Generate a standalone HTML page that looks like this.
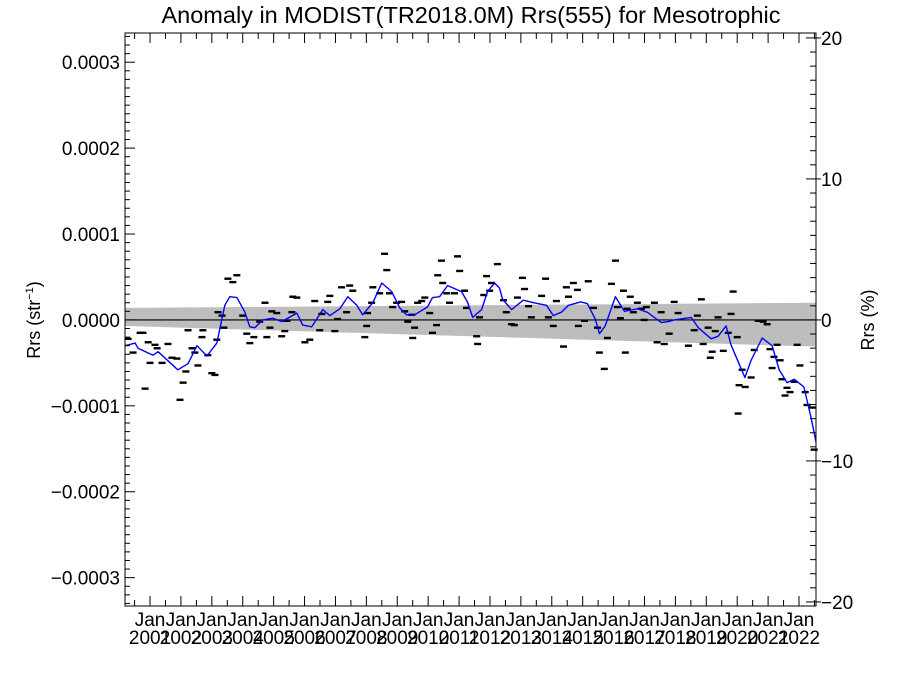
<!DOCTYPE html>
<html><head><meta charset="utf-8">
<style>
body{margin:0;background:#fff;}
svg{display:block;font-family:"Liberation Sans",Arial,sans-serif;}
</style></head>
<body>
<svg id="chart" width="900" height="675" viewBox="0 0 900 675" xmlns="http://www.w3.org/2000/svg">
<rect x="0" y="0" width="900" height="675" fill="#fff"/>
<text x="471" y="23" font-size="23.5" text-anchor="middle">Anomaly in MODIST(TR2018.0M) Rrs(555) for Mesotrophic</text>
<text transform="translate(40,320) rotate(-90)" font-size="18" text-anchor="middle">Rrs (str<tspan font-size="11" dy="-7">−1</tspan><tspan dy="7">)</tspan></text>
<text transform="translate(874,320) rotate(-90)" font-size="18" text-anchor="middle">Rrs (%)</text>
<g id="plot"></g>
</svg>
<script>
// ---- data (values in units of 1e-5 sr^-1, time in decimal years) ----
const lineYears = [2000.19,2000.52,2000.61,2001.10,2001.26,2001.90,2002.23,2002.52,2002.84,2003.16,2003.42,2003.58,2003.81,2004.07,2004.23,2004.39,2004.65,2004.97,2005.26,2005.75,2005.94,2006.23,2006.59,2006.82,2007.14,2007.40,2007.69,2007.88,2008.21,2008.50,2008.82,2009.08,2009.30,2009.56,2009.98,2010.14,2010.37,2010.63,2011.08,2011.27,2011.44,2011.73,2011.92,2012.15,2012.31,2012.41,2012.70,2013.08,2013.41,2013.83,2014.05,2014.31,2014.54,2014.93,2015.15,2015.41,2015.54,2015.73,2016.06,2016.35,2016.77,2017.09,2017.54,2017.77,2017.96,2018.51,2018.74,2019.16,2019.38,2019.64,2019.80,2020.25,2020.45,2020.81,2021.13,2021.36,2021.61,2021.84,2022.16,2022.39,2022.55];
const lineValues = [-3.0,-2.7,-3.3,-4.1,-3.7,-5.8,-5.1,-3.0,-4.2,-2.7,1.7,2.7,2.6,0.9,-0.8,-0.9,0.0,0.2,-0.2,0.8,-0.6,-0.8,1.2,0.5,1.3,2.7,1.7,0.6,2.0,4.3,3.3,1.4,0.6,0.6,1.5,2.6,2.7,4.0,3.3,2.1,0.3,1.2,3.3,4.3,3.7,2.4,1.2,2.3,2.0,1.7,0.5,0.9,1.7,2.1,1.9,0.1,-1.6,-0.7,2.7,1.0,1.3,0.9,-0.3,-0.2,0.0,0.3,-0.9,-2.2,-1.9,-0.7,-2.9,-6.7,-4.7,-2.1,-3.0,-5.8,-7.3,-6.9,-7.8,-11.4,-14.2];
const pointYears = [2000.29,2000.45,2000.68,2000.77,2000.94,2001.00,2000.84,2001.16,2001.23,2001.39,2001.58,2001.71,2001.87,2001.97,2002.07,2002.16,2002.23,2002.36,2002.45,2002.55,2002.68,2002.71,2002.87,2003.00,2003.10,2003.16,2003.20,2003.33,2003.39,2003.52,2003.68,2003.81,2004.00,2004.13,2004.23,2004.36,2004.55,2004.72,2004.78,2004.88,2004.94,2005.10,2005.26,2005.36,2005.43,2005.59,2005.62,2005.75,2006.01,2006.17,2006.33,2006.49,2006.56,2006.75,2006.82,2006.98,2007.07,2007.20,2007.36,2007.46,2007.56,2007.95,2008.01,2008.04,2008.17,2008.21,2008.43,2008.59,2008.66,2008.75,2008.85,2008.98,2009.14,2009.24,2009.34,2009.47,2009.50,2009.56,2009.66,2009.79,2009.89,2010.05,2010.14,2010.27,2010.31,2010.43,2010.47,2010.60,2010.69,2010.85,2010.95,2011.02,2011.18,2011.24,2011.57,2011.60,2011.66,2011.89,2012.05,2012.24,2011.80,2011.99,2012.44,2012.53,2012.70,2012.79,2012.89,2013.05,2013.12,2013.25,2013.34,2013.67,2013.80,2013.89,2014.05,2014.15,2014.38,2014.47,2014.54,2014.70,2014.83,2014.86,2015.06,2015.18,2015.35,2015.48,2015.54,2015.70,2015.80,2015.93,2016.06,2016.12,2016.22,2016.32,2016.38,2016.44,2016.54,2016.64,2016.77,2016.90,2016.99,2017.06,2017.32,2017.41,2017.54,2017.64,2017.80,2017.96,2018.09,2018.42,2018.61,2018.71,2018.84,2018.90,2019.06,2019.13,2019.19,2019.29,2019.38,2019.55,2019.71,2019.80,2019.87,2020.00,2020.03,2020.06,2020.16,2020.26,2020.45,2020.55,2020.68,2020.84,2020.97,2021.06,2021.13,2021.19,2021.29,2021.39,2021.45,2021.55,2021.61,2021.71,2021.84,2021.94,2022.03,2022.20,2022.26,2022.42,2022.49];
const pointValues = [-2.2,-3.8,-1.5,-1.5,-2.6,-5.0,-8.0,-2.9,-3.3,-5.0,-2.8,-4.4,-4.5,-9.3,-7.3,-6.0,-1.2,-3.3,-3.8,-5.3,-2.0,-1.2,-4.1,-6.2,-6.4,-2.3,0.9,0.5,-0.9,4.8,4.4,5.2,0.5,-1.6,-2.7,-2.0,-0.2,2.0,-2.0,-0.9,1.0,0.8,-1.9,-1.3,-0.1,0.9,2.7,2.6,-2.6,-2.3,2.2,-1.2,0.7,2.1,2.8,-1.3,0.1,3.8,0.9,4.0,3.4,-2.0,-0.7,0.8,2.0,3.8,3.1,7.7,5.8,3.1,1.5,2.0,2.1,1.0,-0.2,0.6,-2.1,-0.9,2.0,2.2,2.6,0.8,-1.5,-0.6,5.2,6.9,4.3,3.1,2.0,3.1,7.4,5.7,3.4,1.4,-1.9,-2.8,0.3,5.1,4.3,6.5,2.9,3.4,2.3,0.9,-0.5,-0.6,2.6,4.9,3.6,1.6,0.3,2.8,4.8,0.3,-0.7,2.2,-3.1,3.8,2.7,4.3,3.5,-0.7,-0.1,4.5,1.4,-0.9,-3.8,-5.7,-2.1,4.2,6.9,1.5,0.2,3.4,-3.8,1.3,2.7,0.9,2.0,1.3,0.0,1.5,2.0,-2.6,0.9,-2.8,-1.6,2.1,0.8,-3.0,-1.2,0.5,2.4,-2.8,-0.9,-4.4,-3.7,-1.3,0.3,-3.6,-1.5,0.7,3.3,-2.0,-10.9,-7.6,-5.8,-7.8,-6.7,-3.5,-0.1,-0.2,-0.5,-3.4,-5.6,-4.3,-2.9,-4.7,-6.9,-8.8,-7.9,-8.4,-7.2,-2.9,-5.3,-8.4,-9.9,-10.2,-15.1];
const bandYears = [2000.19, 2022.55];
const bandUpper = [1.4, 2.0];
const bandLower = [-0.7, -3.1];
const leftTickValues = [0.0003,0.0002,0.0001,0,-0.0001,-0.0002,-0.0003];
const leftTickLabels = ["0.0003","0.0002","0.0001","0.0000","\u22120.0001","\u22120.0002","\u22120.0003"];
const rightTickValues = [20,10,0,-10,-20];
const rightTickLabels = ["20","10","0","\u221210","\u221220"];
const xTickYears = [2001,2002,2003,2004,2005,2006,2007,2008,2009,2010,2011,2012,2013,2014,2015,2016,2017,2018,2019,2020,2021,2022];

// ---- geometry ----
const L=125, R=816, T=33, B=606;
const X0=2000.19, X1=2022.55;
const Y0=-33.3, Y1=33.4; // 1e-5 units
const sx = yr => L + (yr - X0) / (X1 - X0) * (R - L);
const sy = v => B - (v - Y0) / (Y1 - Y0) * (B - T);
const yZero = sy(0);
const syPct = p => yZero - p * 14.1;

const NS="http://www.w3.org/2000/svg";
const g=document.getElementById('plot');
function mk(tag, attrs){const e=document.createElementNS(NS,tag);for(const k in attrs)e.setAttribute(k,attrs[k]);g.appendChild(e);return e;}

const band = mk('polygon',{points:`${sx(bandYears[0])},${sy(bandUpper[0])} ${sx(bandYears[1])},${sy(bandUpper[1])} ${sx(bandYears[1])},${sy(bandLower[1])} ${sx(bandYears[0])},${sy(bandLower[0])}`, fill:'#bdbdbd'});



const zl = mk('line',{x1:L,x2:R,y1:yZero,y2:yZero,stroke:'#000','stroke-width':1.2});



for(let i=0;i<pointYears.length;i++){
  const cx=sx(pointYears[i]), cy=sy(pointValues[i]);
  const d = mk('rect',{x:cx-3.5,y:cy-1.2,width:7,height:2.4,fill:'#000'});
  
  
}

const pts = lineYears.map((y,i)=>`${sx(y).toFixed(1)},${sy(lineValues[i]).toFixed(1)}`).join(' ');
const pl = mk('polyline',{points:pts,fill:'none',stroke:'#0000ff','stroke-width':1.4,'stroke-linejoin':'round'});



const fr = mk('rect',{x:L,y:T,width:R-L,height:B-T,fill:'none',stroke:'#000','stroke-width':1});



for(let v=-33;v<=33;v++){
  const y=sy(v); const major = v%10===0;
  const t = mk('line',{x1:L,x2:L+(major?10:5),y1:y,y2:y,stroke:'#000','stroke-width':1});
  
  
}
leftTickValues.forEach((v,i)=>{
  const t = mk('text',{x:L-5,y:sy(v*1e5)+7,'font-size':19,'text-anchor':'end'});
  t.textContent = leftTickLabels[i];
  
  
});
for(let p=-20;p<=20;p++){
  const y=syPct(p); if(y<T-1||y>B+1) continue; const major=p%10===0;
  const t = mk('line',{x1:R-(major?10:6),x2:R+(major?5:0),y1:y,y2:y,stroke:'#000','stroke-width':1});
  
  
}
rightTickValues.forEach((p,i)=>{
  const t = mk('text',{x:R+5,y:syPct(p)+7,'font-size':19,'text-anchor':'start'});
  t.textContent = rightTickLabels[i];
  
  
});
for(let yr=2000;yr<=2022.5;yr+=0.5){
  const x=sx(yr); if(x<L||x>R) continue; const major = yr%1===0;
  const t1 = mk('line',{x1:x,x2:x,y1:B,y2:B-(major?10:6),stroke:'#000','stroke-width':1});
  
  
  const t2 = mk('line',{x1:x,x2:x,y1:T,y2:T+(major?10:6),stroke:'#000','stroke-width':1});
  
  
}
xTickYears.forEach(yr=>{
  const x=sx(yr);
  const a = mk('text',{x:x,y:626,'font-size':19,'text-anchor':'middle'});
  a.textContent='Jan';
  
  
  const b = mk('text',{x:x,y:644,'font-size':19,'text-anchor':'middle'});
  b.textContent=String(yr);
  
  
});
</script>
</body></html>
